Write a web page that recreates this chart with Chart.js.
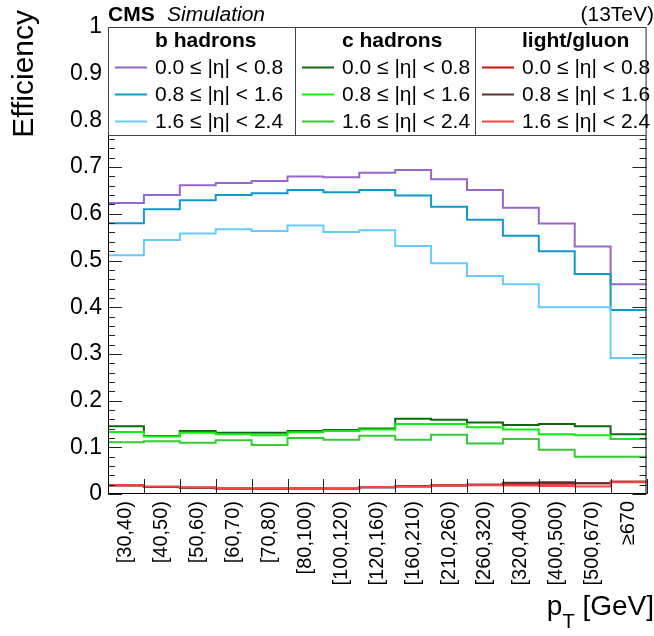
<!DOCTYPE html>
<html>
<head>
<meta charset="utf-8">
<script src="https://cdn.jsdelivr.net/npm/chart.js@4.4.1/dist/chart.umd.min.js"></script>
<style>
  html, body { margin: 0; padding: 0; background: #fff; overflow: hidden; }
  canvas { display: block; }
</style>
</head>
<body>
<canvas id="effChart" width="660" height="636"></canvas>
<script>
// ==========================
// DATA
// ==========================
const ptBins = ["[30,40)", "[40,50)", "[50,60)", "[60,70)", "[70,80)", "[80,100)", "[100,120)",
  "[120,160)", "[160,210)", "[210,260)", "[260,320)", "[320,400)", "[400,500)", "[500,670)", "\u2265670"];
const yTickLabels = ["0", "0.1", "0.2", "0.3", "0.4", "0.5", "0.6", "0.7", "0.8", "0.9", "1"];
const flavours = ["b hadrons", "c hadrons", "light/gluon"];
const etaLabels = ["0.0 \u2264 |\u03b7| < 0.8", "0.8 \u2264 |\u03b7| < 1.6", "1.6 \u2264 |\u03b7| < 2.4"];

// b hadrons
const bEta08 = [0.623, 0.640, 0.661, 0.666, 0.670, 0.680, 0.678, 0.688, 0.694, 0.674, 0.651, 0.613, 0.579, 0.530, 0.449];
const bEta16 = [0.580, 0.610, 0.629, 0.640, 0.644, 0.651, 0.646, 0.651, 0.639, 0.615, 0.587, 0.553, 0.520, 0.471, 0.394];
const bEta24 = [0.511, 0.544, 0.558, 0.567, 0.563, 0.575, 0.561, 0.565, 0.531, 0.494, 0.467, 0.449, 0.400, 0.400, 0.291];
// c hadrons
const cEta08 = [0.145, 0.124, 0.135, 0.131, 0.131, 0.135, 0.137, 0.140, 0.161, 0.159, 0.153, 0.148, 0.150, 0.145, 0.128];
const cEta16 = [0.133, 0.123, 0.131, 0.128, 0.126, 0.132, 0.135, 0.138, 0.150, 0.150, 0.143, 0.138, 0.128, 0.126, 0.118];
const cEta24 = [0.111, 0.113, 0.110, 0.115, 0.105, 0.120, 0.116, 0.125, 0.116, 0.127, 0.108, 0.118, 0.095, 0.080, 0.080];
// light / gluon
const lEta08 = [0.019, 0.015, 0.014, 0.012, 0.011, 0.012, 0.011, 0.015, 0.017, 0.019, 0.020, 0.021, 0.022, 0.023, 0.026];
const lEta16 = [0.018, 0.015, 0.013, 0.012, 0.012, 0.012, 0.012, 0.014, 0.016, 0.018, 0.020, 0.024, 0.025, 0.023, 0.026];
const lEta24 = [0.019, 0.016, 0.014, 0.013, 0.012, 0.012, 0.011, 0.015, 0.016, 0.018, 0.019, 0.018, 0.017, 0.016, 0.025];

const seriesList = [
  { vals: bEta08, color: "#9966cc" },
  { vals: bEta16, color: "#1199cc" },
  { vals: bEta24, color: "#66ccff" },
  { vals: cEta08, color: "#116611" },
  { vals: cEta16, color: "#11ee11" },
  { vals: cEta24, color: "#33cc33" },
  { vals: lEta08, color: "#cc1111" },
  { vals: lEta16, color: "#5e3030" },
  { vals: lEta24, color: "#ff4444" },
];

const FONT = "'Liberation Sans', Arial, sans-serif";

// ==========================
// HELPER
// ==========================
// histogram step: one point per bin edge, last edge repeats the last bin
function toSteps(vals) {
  const pts = vals.map((v, i) => ({ x: i, y: v }));
  pts.push({ x: vals.length, y: vals[vals.length - 1] });
  return pts;
}

// ==========================
// ROOT STYLE FRAME + LEGEND
// ==========================
const rootStyle = {
  id: "rootStyle",
  afterDatasetsDraw(chart) {
    const ctx = chart.ctx;
    const { left, right, top, bottom } = chart.chartArea;
    const x = chart.scales.x;
    const y = chart.scales.y;

    ctx.save();
    ctx.strokeStyle = "#222";
    ctx.lineWidth = 1;

    // y ticks, both sides
    for (let k = 0; k <= 50; k++) {
      const py = Math.round(y.getPixelForValue(k / 50)) + 0.5;
      const len = k % 5 === 0 ? 14 : 7;
      ctx.beginPath();
      ctx.moveTo(left, py); ctx.lineTo(left + len, py);
      ctx.moveTo(right, py); ctx.lineTo(right - len, py);
      ctx.stroke();
    }
    // x ticks at bin edges
    for (let i = 0; i <= ptBins.length; i++) {
      const px = Math.round(x.getPixelForValue(i)) + 0.5;
      ctx.beginPath();
      ctx.moveTo(px, bottom); ctx.lineTo(px, bottom - 15);
      ctx.stroke();
    }

    // frame
    ctx.strokeStyle = "#000";
    ctx.strokeRect(left + 0.5, top + 0.5, right - left - 1, bottom - top - 1);

    // legend box
    const legTop = top, legBottom = 135;
    ctx.fillStyle = "#fff";
    ctx.fillRect(left, legTop, right - left, legBottom - legTop);
    ctx.strokeStyle = "#444";
    ctx.strokeRect(left + 0.5, legTop + 0.5, right - left - 1, legBottom - legTop);
    const colX = [left, 295, 475];
    ctx.beginPath();
    ctx.moveTo(295.5, legTop); ctx.lineTo(295.5, legBottom);
    ctx.moveTo(475.5, legTop); ctx.lineTo(475.5, legBottom);
    ctx.stroke();

    const rowLine = [67.5, 94.5, 121.5];
    const rowText = [74, 101, 128];
    ctx.fillStyle = "#000";
    ctx.textAlign = "left";
    ctx.textBaseline = "alphabetic";
    for (let c = 0; c < 3; c++) {
      const x0 = colX[c] + 7;
      ctx.font = "bold 21px " + FONT;
      ctx.fillText(flavours[c], x0 + 40, 47);
      ctx.font = "21px " + FONT;
      for (let r = 0; r < 3; r++) {
        const ds = chart.data.datasets[c * 3 + r];
        ctx.strokeStyle = ds.borderColor;
        ctx.lineWidth = 2;
        ctx.beginPath();
        ctx.moveTo(x0, rowLine[r]); ctx.lineTo(x0 + 32, rowLine[r]);
        ctx.stroke();
        ctx.fillText(etaLabels[r], x0 + 40, rowText[r]);
      }
    }

    // header
    ctx.font = "bold 21px " + FONT;
    ctx.fillText("CMS", 108, 21);
    ctx.font = "italic 21px " + FONT;
    ctx.fillText("Simulation", 167, 21);
    ctx.font = "21px " + FONT;
    ctx.textAlign = "right";
    ctx.fillText("(13TeV)", 654, 21);

    // y title
    ctx.save();
    ctx.translate(33, 10);
    ctx.rotate(-Math.PI / 2);
    ctx.font = "30px " + FONT;
    ctx.textAlign = "right";
    ctx.fillText("Efficiency", 0, 0);
    ctx.restore();

    // x title p_T [GeV]
    ctx.textAlign = "left";
    ctx.font = "28px " + FONT;
    const wP = ctx.measureText("p").width;
    const wRest = ctx.measureText(" [GeV]").width;
    ctx.font = "20px " + FONT;
    const wT = ctx.measureText("T").width;
    const xs = 654 - wRest - wT - wP;
    ctx.font = "28px " + FONT;
    ctx.fillText("p", xs, 615);
    ctx.fillText(" [GeV]", xs + wP + wT, 615);
    ctx.font = "20px " + FONT;
    ctx.fillText("T", xs + wP, 628);

    ctx.restore();
  }
};

// ==========================
// CHART
// ==========================
const ctx = document.getElementById("effChart");

new Chart(ctx, {
  type: "line",
  data: {
    datasets: seriesList.map((s, i) => ({
      data: toSteps(s.vals),
      borderColor: s.color,
      borderWidth: 2,
      stepped: "before",
      pointRadius: 0,
      fill: false,
      xAxisID: "x",
      order: 9 - i,
    }))
  },
  options: {
    responsive: false,
    animation: false,
    layout: { padding: { left: 0, right: 4.5, top: 27, bottom: 0 } },
    plugins: {
      legend: { display: false },
      tooltip: { enabled: false }
    },
    scales: {
      x: {
        type: "linear",
        min: 0,
        max: ptBins.length,
        display: false
      },
      xBins: {
        type: "category",
        labels: ptBins,
        offset: true,
        position: "bottom",
        grid: { display: false, drawTicks: false },
        border: { display: false },
        ticks: {
          autoSkip: false,
          minRotation: 90,
          maxRotation: 90,
          padding: 7,
          color: "#000",
          font: { family: FONT, size: 20 }
        },
        afterFit(s) { s.height = 142; }
      },
      y: {
        min: 0,
        max: 1,
        grid: { display: false, drawTicks: false },
        border: { display: false },
        ticks: {
          stepSize: 0.1,
          padding: 6,
          color: "#000",
          font: { family: FONT, size: 23 },
          callback: (v, i) => yTickLabels[i]
        },
        afterFit(s) { s.width = 108; }
      }
    }
  },
  plugins: [rootStyle]
});
</script>
</body>
</html>
